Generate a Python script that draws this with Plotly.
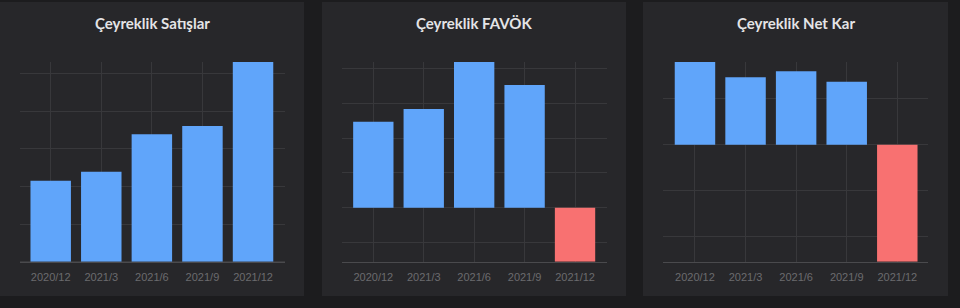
import plotly.graph_objects as go

categories = ["2020/12", "2021/3", "2021/6", "2021/9", "2021/12"]
titles = ["Çeyreklik Satışlar", "Çeyreklik FAVÖK", "Çeyreklik Net Kar"]
sales = [215, 239, 339, 361, 531]
favok = [247, 284, 419, 353, -155]
net_kar = [180, 147, 160, 137, -254]
series = [sales, favok, net_kar]

W, H = 960, 308
POS = "#60a5fa"
NEG = "#f87171"
PANEL = "#27272a"
BG = "#1c1c1e"
GRID = "#38383b"
AXIS = "#4a4a4d"
TICK = "#6b6b6e"

# panel rectangles (pixels)
panels = [(-4, 2, 304, 296), (322, 2, 626, 296), (643, 2, 948, 296)]
# plot domains (pixels) and x ranges
x_dom = [(20, 285), (341.7, 607.3), (662.7, 928.3)]
x_rng = [(-0.607, 4.632), (-0.627, 4.64), (-0.638, 4.613)]
y_dom = (62, 261.7)
y_rng = [(0, 531), (-155, 419), (-254, 180)]
title_x = [152, 474, 796]

fig = go.Figure()
layout = dict(
    width=W, height=H, margin=dict(l=0, r=0, t=0, b=0),
    paper_bgcolor=BG, plot_bgcolor="rgba(0,0,0,0)",
    showlegend=False, hovermode=False,
    shapes=[], annotations=[],
)

for i, vals in enumerate(series):
    n = "" if i == 0 else str(i + 1)
    colors = [POS if v >= 0 else NEG for v in vals]
    fig.add_trace(go.Bar(
        x=list(range(len(categories))), y=vals,
        marker=dict(color=colors, line=dict(width=0)),
        width=0.8, xaxis="x" + n, yaxis="y" + n,
    ))
    layout["xaxis" + n] = dict(
        domain=[x_dom[i][0] / W, x_dom[i][1] / W],
        range=list(x_rng[i]), anchor="y" + n,
        tickmode="array", tickvals=list(range(len(categories))), ticktext=categories,
        showgrid=True, gridcolor=GRID, gridwidth=1,
        showline=True, linecolor=AXIS, linewidth=1,
        ticks="outside", ticklen=5, tickcolor="rgba(0,0,0,0)",
        tickfont=dict(family="Liberation Sans, Arial", size=11, color=TICK),
        zeroline=False, fixedrange=True,
    )
    layout["yaxis" + n] = dict(
        domain=[(H - y_dom[1]) / H, (H - y_dom[0]) / H],
        range=list(y_rng[i]), anchor="x" + n,
        dtick=100, showgrid=True, gridcolor=GRID, gridwidth=1,
        zeroline=True, zerolinecolor=GRID, zerolinewidth=1,
        showticklabels=False, showline=False, fixedrange=True,
    )
    x0, y0, x1, y1 = panels[i]
    layout["shapes"].append(dict(
        type="rect", xref="paper", yref="paper", layer="below",
        x0=x0 / W, x1=x1 / W, y0=(H - y1) / H, y1=(H - y0) / H,
        fillcolor=PANEL, line=dict(width=0),
    ))
    layout["annotations"].append(dict(
        text="<b>" + titles[i] + "</b>", xref="paper", yref="paper",
        x=title_x[i] / W, y=(H - 23) / H, xanchor="center", yanchor="middle",
        showarrow=False, font=dict(family="Lato", size=15, color="#e4e4e6"),
    ))

fig.update_layout(**layout)
fig.write_html("out.html")
